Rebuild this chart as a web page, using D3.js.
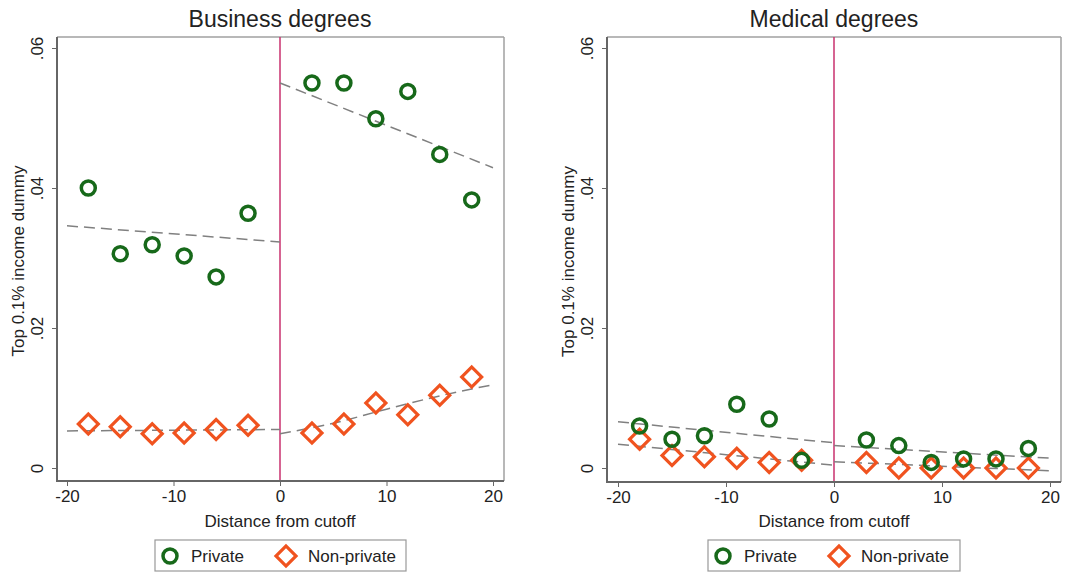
<!DOCTYPE html>
<html><head><meta charset="utf-8">
<script src="https://cdn.jsdelivr.net/npm/d3@7"></script>
<style>body{margin:0;background:#fff}svg{display:block}text{font-family:"Liberation Sans",Arial,sans-serif;fill:#222}</style>
</head><body><svg id="c" width="1073" height="572"></svg>
<script>
const xBins = [-18,-15,-12,-9,-6,-3,3,6,9,12,15,18];
const xTicks = [-20,-10,0,10,20];
const yTicks = [0,0.02,0.04,0.06];
const yTickLabels = ["0",".02",".04",".06"];
const panelTitles = ["Business degrees","Medical degrees"];
const legendLabels = ["Private","Non-private"];
const xTitle = "Distance from cutoff";
const yTitle = "Top 0.1% income dummy";

const bizPrivate    = [0.0400,0.0306,0.0319,0.0303,0.0273,0.0364,0.0550,0.0550,0.0499,0.0538,0.0448,0.0383];
const bizNonPrivate = [0.0063,0.0059,0.0049,0.0050,0.0055,0.0061,0.0050,0.0063,0.0093,0.0076,0.0104,0.0130];
const medPrivate    = [0.0060,0.0041,0.0046,0.0091,0.0070,0.0011,0.0040,0.0032,0.0008,0.0013,0.0013,0.0028];
const medNonPrivate = [0.0041,0.0018,0.0016,0.0014,0.0008,0.0011,0.0008,0.0000,0.0000,0.0000,0.0000,0.0000];

// fitted lines: [x, y]
const bizPrivFitL = [[-20,0.0346],[0,0.0323]];
const bizPrivFitR = [[0,0.0550],[20,0.0429]];
const bizNonFitL  = [[-20,0.0053],[0,0.0055]];
const bizNonFitR  = [[0,0.0049],[5,0.0064],[10,0.0084],[15,0.0103],[20,0.0119]];
const medPrivFitL = [[-20,0.0066],[0,0.0036]];
const medPrivFitR = [[0,0.0032],[20,0.0014]];
const medNonFitL  = [[-20,0.0034],[0,0.0004]];
const medNonFitR  = [[0,0.0009],[20,-0.0004]];

const GREEN = "#17691a", ORANGE = "#f0531f", VLINE = "#c8306e";

const svg = d3.select("#c");

const panels = [
  {title: panelTitles[0], frame:{l:57,r:504,t:37,b:481}, xr:[67,493],
   priv: bizPrivate, non: bizNonPrivate, fits:[bizPrivFitL,bizPrivFitR,bizNonFitL,bizNonFitR],
   legend:{l:155,r:406}},
  {title: panelTitles[1], frame:{l:607,r:1061,t:37,b:482}, xr:[618,1050],
   priv: medPrivate, non: medNonPrivate, fits:[medPrivFitL,medPrivFitR,medNonFitL,medNonFitR],
   legend:{l:708,r:960}}
];

panels.forEach(p => {
  const f = p.frame;
  const x = d3.scaleLinear().domain([-20,20]).range(p.xr);
  const y = d3.scaleLinear().domain([0,0.06]).range([468,48]);
  const g = svg.append("g");

  // frame
  g.append("line").attr("x1",f.l).attr("x2",f.r).attr("y1",f.t).attr("y2",f.t).attr("stroke","#a0a0a0").attr("stroke-width",1.5);
  g.append("line").attr("x1",f.r).attr("x2",f.r).attr("y1",f.t).attr("y2",f.b).attr("stroke","#a0a0a0").attr("stroke-width",1.5);

  // zero line
  g.append("line").attr("x1",x(0)).attr("x2",x(0)).attr("y1",f.t).attr("y2",f.b)
    .attr("stroke",VLINE).attr("stroke-width",1.5);

  // axes
  const yAxis = d3.axisLeft(y).tickValues(yTicks).tickSize(5).tickFormat((d,i)=>yTickLabels[i]);
  const ya = g.append("g").attr("transform",`translate(${f.l},0)`).call(yAxis);
  ya.select(".domain").remove();
  ya.selectAll(".tick line").attr("stroke","#666");
  ya.selectAll(".tick text").attr("font-size",17).attr("fill","#222")
    .attr("text-anchor","middle").attr("x",null).attr("dy",null)
    .attr("transform","translate(-14,0) rotate(-90)").attr("y",0);
  g.append("line").attr("x1",f.l).attr("x2",f.l).attr("y1",f.t).attr("y2",f.b+1).attr("stroke","#666").attr("stroke-width",2);

  const xAxis = d3.axisBottom(x).tickValues(xTicks).tickSize(5).tickFormat(d3.format("d"));
  const xa = g.append("g").attr("transform",`translate(0,${f.b})`).call(xAxis);
  xa.select(".domain").remove();
  xa.selectAll(".tick line").attr("stroke","#666");
  xa.selectAll(".tick text").attr("font-size",17).attr("fill","#222").attr("y",9).attr("dy","0.71em")
    .text(d => d < 0 ? "-" + Math.abs(d) : d);
  g.append("line").attr("x1",f.l-1).attr("x2",f.r).attr("y1",f.b).attr("y2",f.b).attr("stroke","#666").attr("stroke-width",2);

  // titles
  g.append("text").attr("x",x(0)).attr("y",27).attr("text-anchor","middle").attr("font-size",23).attr("fill","#111").text(p.title);
  g.append("text").attr("x",x(0)).attr("y",527).attr("text-anchor","middle").attr("font-size",17).text(xTitle);
  g.append("text").attr("transform",`translate(${f.l-33},${(f.t+f.b)/2+2}) rotate(-90)`)
    .attr("text-anchor","middle").attr("font-size",17).text(yTitle);

  // fit lines
  const line = d3.line().x(d=>x(d[0])).y(d=>y(d[1])).curve(d3.curveMonotoneX);
  p.fits.forEach(fd => {
    g.append("path").attr("d",line(fd)).attr("fill","none").attr("stroke","#808080")
      .attr("stroke-width",1.5).attr("stroke-dasharray","11,6");
  });

  // markers
  const diamond = d3.symbol().type(d3.symbolSquare).size(200);
  g.append("g").selectAll("path").data(xBins.map((b,i)=>[b,p.non[i]])).join("path")
    .attr("d",diamond).attr("transform",d=>`translate(${x(d[0])},${y(d[1])}) rotate(45)`)
    .attr("fill","none").attr("stroke",ORANGE).attr("stroke-width",3.2);
  g.append("g").selectAll("circle").data(xBins.map((b,i)=>[b,p.priv[i]])).join("circle")
    .attr("cx",d=>x(d[0])).attr("cy",d=>y(d[1])).attr("r",7)
    .attr("fill","none").attr("stroke",GREEN).attr("stroke-width",3.5);

  // legend
  const L = p.legend;
  g.append("rect").attr("x",L.l).attr("y",540).attr("width",L.r-L.l).attr("height",31)
    .attr("fill","#fff").attr("stroke","#999").attr("stroke-width",1.2);
  g.append("circle").attr("cx",L.l+15).attr("cy",556).attr("r",7).attr("fill","none").attr("stroke",GREEN).attr("stroke-width",3.5);
  g.append("text").attr("x",L.l+36).attr("y",562).attr("font-size",17).text(legendLabels[0]);
  g.append("path").attr("d",diamond).attr("transform",`translate(${L.l+131},556) rotate(45)`)
    .attr("fill","none").attr("stroke",ORANGE).attr("stroke-width",3.2);
  g.append("text").attr("x",L.l+153).attr("y",562).attr("font-size",17).text(legendLabels[1]);
});
</script></body></html>
